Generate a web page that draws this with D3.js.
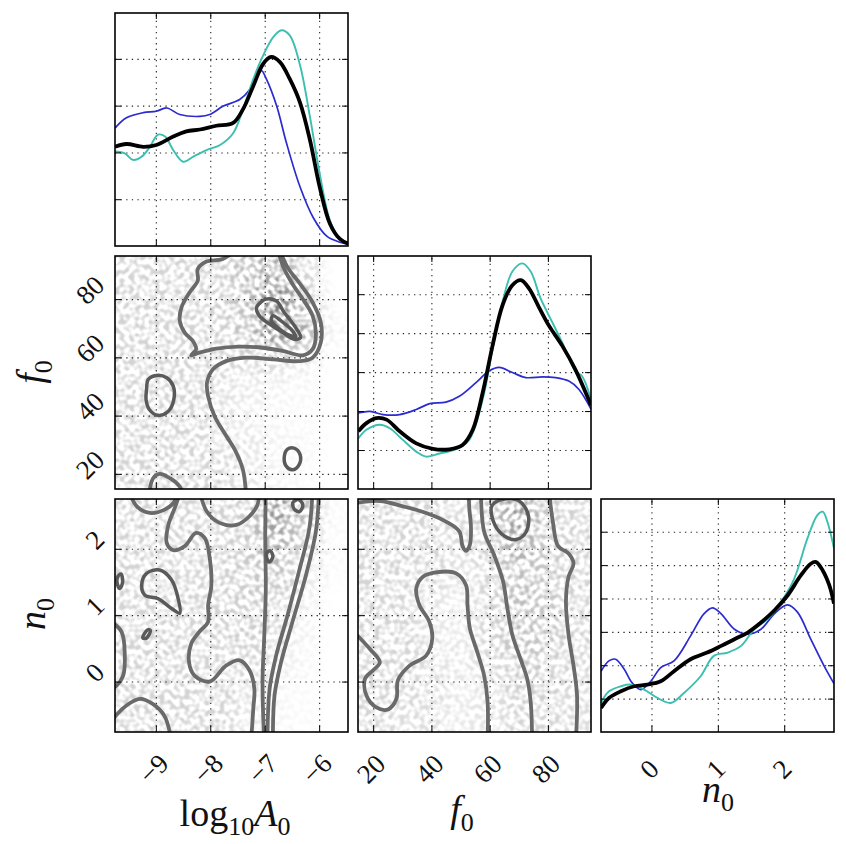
<!DOCTYPE html>
<html>
<head>
<meta charset="utf-8">
<title>Corner plot</title>
<script src="https://cdn.jsdelivr.net/npm/d3@7"></script>
<style>
  body { margin: 0; background: #fff; }
  text { font-family: "Liberation Serif", "DejaVu Serif", serif; fill: #111; }
</style>
</head>
<body>
<script>
// axis ranges and ticks for the three parameters
var logARange = [-9.75, -5.47], f0Range = [14.8, 94.8], n0Range = [-0.76, 2.75];
var logATicks = [-9, -8, -7, -6], f0Ticks = [20, 40, 60, 80], n0Ticks = [0, 1, 2];
var diagMax = [4.98, 5.98, 6.98];
var diagTicks = [[1, 2, 3, 4], [1, 2, 3, 4, 5], [1, 2, 3, 4, 5, 6]];

// 1d marginal curves  [x, density]
var logA_blue = [[-9.75,2.52],[-9.54,2.74],[-9.23,2.85],[-8.99,2.88],[-8.80,2.95],[-8.56,2.81],[-8.19,2.77],[-8.01,2.81],[-7.76,2.99],[-7.46,3.13],[-7.27,3.35],[-7.15,3.60],[-7.06,3.75],[-6.97,3.57],[-6.78,2.99],[-6.60,2.20],[-6.35,1.26],[-6.11,0.61],[-5.86,0.21],[-5.62,0.08],[-5.47,0.04]];
var logA_cyan = [[-9.75,2.02],[-9.57,1.98],[-9.42,1.84],[-9.26,1.91],[-9.11,2.12],[-8.96,2.38],[-8.83,2.34],[-8.68,2.05],[-8.50,1.80],[-8.31,1.91],[-8.07,2.05],[-7.82,2.16],[-7.58,2.41],[-7.40,2.92],[-7.21,3.57],[-7.03,4.07],[-6.84,4.47],[-6.69,4.61],[-6.54,4.50],[-6.35,3.86],[-6.17,2.77],[-5.99,1.55],[-5.80,0.54],[-5.62,0.15],[-5.47,0.05]];
var logA_black = [[-9.75,2.12],[-9.54,2.18],[-9.23,2.12],[-8.99,2.16],[-8.68,2.34],[-8.44,2.45],[-8.19,2.49],[-7.89,2.57],[-7.58,2.63],[-7.40,2.92],[-7.21,3.42],[-7.03,3.89],[-6.88,4.04],[-6.72,3.93],[-6.54,3.57],[-6.35,3.06],[-6.17,2.27],[-5.99,1.26],[-5.80,0.47],[-5.62,0.15],[-5.47,0.05]];

var f0_blue = [[14.9,1.95],[18.9,1.99],[23.4,1.91],[29.1,1.91],[34.8,2.04],[39.4,2.19],[45.0,2.23],[49.6,2.38],[55.3,2.73],[59.8,3.03],[63.3,3.12],[67.8,2.99],[72.4,2.86],[78.1,2.88],[82.6,2.86],[87.2,2.77],[90.6,2.56],[94.8,2.05]];
var f0_cyan = [[14.9,1.30],[17.7,1.52],[22.3,1.65],[25.7,1.56],[30.2,1.26],[34.8,0.96],[38.2,0.83],[42.8,0.91],[48.5,1.02],[53.0,1.26],[57.6,2.30],[61.0,3.59],[64.4,4.80],[67.8,5.58],[71.2,5.79],[74.1,5.58],[77.5,4.89],[81.5,4.28],[84.9,3.76],[89.4,3.03],[91.7,2.90],[94.8,2.30]];
var f0_black = [[14.9,1.48],[17.7,1.69],[21.1,1.82],[24.6,1.78],[29.1,1.48],[34.8,1.17],[40.5,1.03],[46.2,1.02],[50.7,1.13],[54.2,1.52],[57.6,2.47],[61.0,3.68],[64.4,4.71],[67.8,5.23],[70.7,5.36],[73.5,5.15],[76.9,4.67],[80.3,4.20],[84.9,3.68],[89.4,3.07],[94.8,2.15]];

var n0_blue = [[-0.76,1.82],[-0.64,2.13],[-0.54,2.18],[-0.41,1.88],[-0.29,1.47],[-0.16,1.27],[-0.01,1.52],[0.14,1.93],[0.34,2.13],[0.59,2.88],[0.79,3.54],[0.92,3.72],[1.05,3.54],[1.25,3.08],[1.45,2.93],[1.65,3.08],[1.85,3.54],[2.05,3.81],[2.20,3.59],[2.40,2.78],[2.60,1.98],[2.75,1.45]];
var n0_cyan = [[-0.76,0.87],[-0.64,1.22],[-0.46,1.37],[-0.31,1.42],[-0.11,1.27],[0.09,1.02],[0.29,0.87],[0.49,1.17],[0.74,1.67],[0.94,2.28],[1.15,2.38],[1.35,2.58],[1.55,3.08],[1.75,3.38],[1.95,3.89],[2.15,4.59],[2.35,5.80],[2.50,6.50],[2.58,6.60],[2.65,6.30],[2.75,5.50]];
var n0_black = [[-0.76,0.72],[-0.64,1.02],[-0.46,1.22],[-0.26,1.37],[-0.06,1.42],[0.14,1.52],[0.34,1.82],[0.59,2.18],[0.84,2.38],[1.05,2.58],[1.25,2.78],[1.45,2.98],[1.65,3.28],[1.85,3.64],[2.05,4.09],[2.25,4.69],[2.40,5.04],[2.48,5.09],[2.58,4.84],[2.68,4.39],[2.75,3.85]];

// 2d contours (open lines run off the panel, loops are closed)
var logA_f0_open = [
  [[-7.34,12],[-7.40,21.4],[-7.55,28.3],[-7.74,34.0],[-7.92,39.8],[-8.04,46.7],[-8.06,51.3],[-7.95,55.9],[-7.71,58.7],[-7.34,59.9],[-6.85,59.3],[-6.37,58.7],[-6.12,59.9],[-5.97,65.1],[-5.97,72.0],[-6.12,78.9],[-6.37,85.7],[-6.58,90.9],[-6.75,98]],
  [[-7.46,98],[-7.77,93.8],[-8.07,92.9],[-8.23,90.3],[-8.23,86.3],[-8.38,82.3],[-8.53,77.1],[-8.56,72.5],[-8.47,68.5],[-8.32,65.6],[-8.26,62.8],[-8.35,60.7],[-8.20,61.6],[-7.89,63.0],[-7.46,63.7],[-7.04,63.3],[-6.67,62.2],[-6.30,60.7],[-6.12,62.8],[-6.06,67.9],[-6.12,74.3],[-6.30,80.0],[-6.49,85.2],[-6.64,90.3],[-6.78,98]],
  [[-9.13,12],[-9.05,18.5],[-8.93,20.0],[-8.74,18.5],[-8.56,15.6],[-8.48,12]]
];
var logA_f0_loops = [
  [[-7.07,78.9],[-6.98,80.0],[-6.79,79.4],[-6.64,75.4],[-6.43,70.2],[-6.34,66.8],[-6.46,66.2],[-6.67,68.5],[-6.91,71.4],[-7.10,74.3],[-7.15,77.1]],
  [[-6.85,74.3],[-6.70,72.5],[-6.49,69.1],[-6.43,67.1],[-6.55,67.6],[-6.76,70.2],[-6.88,72.5]],
  [[-9.17,49.0],[-9.14,52.4],[-8.99,53.8],[-8.80,53.0],[-8.68,50.1],[-8.67,45.5],[-8.77,41.5],[-8.96,40.1],[-9.12,42.1],[-9.18,45.5]],
  [[-6.64,26.0],[-6.58,28.5],[-6.46,28.8],[-6.35,26.6],[-6.37,23.1],[-6.49,21.4],[-6.61,22.8]]
];
var logA_n0_open = [
  [[-9.51,2.9],[-9.35,2.64],[-9.11,2.54],[-8.84,2.59],[-8.65,2.72],[-8.62,2.9]],
  [[-8.53,2.9],[-8.65,2.62],[-8.77,2.36],[-8.80,2.09],[-8.68,1.98],[-8.47,2.04],[-8.26,2.24],[-8.10,2.16],[-8.01,1.86],[-7.98,1.45],[-8.04,1.15],[-8.04,0.90],[-8.20,0.75],[-8.35,0.57],[-8.39,0.29],[-8.29,0.09],[-8.01,0.0],[-7.71,0.24],[-7.46,0.32],[-7.28,0.17],[-7.19,-0.11],[-7.21,-0.41],[-7.25,-0.9]],
  [[-8.20,2.9],[-8.07,2.57],[-7.83,2.39],[-7.52,2.36],[-7.28,2.49],[-7.13,2.67],[-7.10,2.9]],
  [[-6.98,2.9],[-6.99,2.16],[-6.98,1.40],[-7.01,0.65],[-7.04,0.0],[-7.01,-0.9]],
  [[-6.12,2.9],[-6.18,2.31],[-6.37,1.66],[-6.58,1.0],[-6.79,0.39],[-6.91,-0.11],[-6.95,-0.9]],
  [[-6.0,2.9],[-6.06,2.26],[-6.24,1.61],[-6.49,0.90],[-6.70,0.29],[-6.82,-0.21],[-6.85,-0.9]],
  [[-9.85,0.92],[-9.63,0.75],[-9.57,0.39],[-9.60,0.09],[-9.72,-0.06],[-9.85,-0.12]],
  [[-9.85,-0.62],[-9.54,-0.36],[-9.29,-0.26],[-9.05,-0.34],[-8.84,-0.52],[-8.71,-0.9]]
];
var logA_n0_loops = [
  [[-9.26,1.45],[-9.17,1.63],[-8.93,1.68],[-8.71,1.53],[-8.59,1.25],[-8.56,1.03],[-8.71,1.10],[-8.96,1.25],[-9.20,1.30]],
  [[-6.48,2.70],[-6.38,2.74],[-6.30,2.66],[-6.36,2.56],[-6.46,2.60]],
  [[-6.97,1.92],[-6.90,1.97],[-6.85,1.88],[-6.92,1.80]],
  [[-9.70,1.58],[-9.64,1.62],[-9.61,1.50],[-9.66,1.40],[-9.70,1.45]],
  [[-9.24,0.66],[-9.15,0.78],[-9.10,0.77],[-9.18,0.65]]
];
var f0_n0_open = [
  [[14,2.69],[22.3,2.72],[30.2,2.64],[38.2,2.54],[45.0,2.41],[49.6,2.26],[50.7,2.04],[51.9,1.97],[53.2,2.06],[53.6,2.31],[53.0,2.62],[52.8,2.9]],
  [[14,0.72],[18.9,0.49],[22.3,0.29],[20.0,0.17],[17.2,0.04],[17.7,-0.21],[21.1,-0.39],[25.1,-0.42],[28.0,-0.26],[28.5,0.02],[32.5,0.24],[38.2,0.39],[40.3,0.65],[39.3,0.90],[35.9,1.15],[34.8,1.40],[37.1,1.58],[42.2,1.65],[48.5,1.63],[51.9,1.45],[52.4,1.15],[53.2,0.80],[55.8,0.44],[58.1,0.09],[59.3,-0.31],[59.3,-0.9]],
  [[57.0,2.9],[58.1,2.26],[61.5,1.91],[64.6,1.51],[66.1,1.10],[67.8,0.70],[70.6,0.34],[72.9,0.04],[74.1,-0.31],[74.6,-0.9]],
  [[80.3,2.9],[81.7,2.41],[83.5,2.04],[87.1,1.93],[88.8,1.78],[87.1,1.58],[86.2,1.20],[87.1,0.70],[88.8,0.24],[90.0,-0.21],[89.6,-0.9]]
];
var f0_n0_loops = [
  [[60.7,2.64],[64.1,2.74],[69.8,2.73],[73.2,2.52],[72.6,2.26],[69.2,2.14],[65.2,2.19],[61.8,2.36]]
];

// sample density (rows top to bottom, 8 x 8 cells)
var logA_f0_dens = [
  [1,1,1,1,1.5,2,1,0],
  [1,1,1,1,1.5,3,1.5,0],
  [1,1,1,1,1.5,3,2,0.2],
  [1,1,1,1,1,1,0.5,0],
  [1,1,1,0.8,0.5,0.3,0.2,0],
  [1,1,1,0.8,0.4,0.2,0.1,0],
  [1,1,1,0.8,0.6,0.3,0.2,0],
  [1,1,1,1,0.6,0.3,0.1,0]
];
var logA_n0_dens = [
  [1,1,1,1,1.2,2.5,1.5,0.1],
  [1,1,1,1,1.2,2,1,0.1],
  [1,1,1,1,1.2,1.5,0.6,0.1],
  [1,1,1,1,1.2,1.2,0.4,0],
  [1,1,1,1,1.2,1,0.3,0],
  [1,1,1,1,1,0.6,0.2,0],
  [1,1,1,1,0.8,0.3,0.1,0],
  [1,1,1,1,0.6,0.2,0.1,0]
];
var f0_n0_dens = [
  [1,1,1,0.8,1.2,2.5,1.2,1],
  [1,1,1,0.8,1.2,2,1.2,1],
  [1,1,1,0.6,1,1.5,1.3,1],
  [1,1,0.6,0.5,1,1.5,1.3,1],
  [1,1,0.6,0.5,1,1.5,1.3,1],
  [1,1,0.8,0.5,0.8,1.3,1.2,0.9],
  [1,1,0.8,0.5,0.7,1.2,1.1,0.8],
  [1,0.8,0.8,0.5,0.6,1,1,0.8]
];

var size = 233, gap = 10, left0 = 115, top0 = 13;
var ranges = [logARange, f0Range, n0Range];
var ticks = [logATicks, f0Ticks, n0Ticks];
var diagCurves = [[logA_blue, logA_cyan, logA_black], [f0_blue, f0_cyan, f0_black], [n0_blue, n0_cyan, n0_black]];
var pairData = {
  "10": [logA_f0_open, logA_f0_loops, logA_f0_dens],
  "20": [logA_n0_open, logA_n0_loops, logA_n0_dens],
  "21": [f0_n0_open, f0_n0_loops, f0_n0_dens]
};
var curveColors = ["#2b2bd0", "#3bbfb0", "#000"];
var curveWidths = [1.7, 1.9, 3.8];
var fmt = d3.format("d");

var svg = d3.select("body").append("svg")
    .attr("width", 846)
    .attr("height", 844);
var defs = svg.append("defs");

// blurred density, broken up into a speckle like the scatter points
var filt = defs.append("filter").attr("id", "speck")
    .attr("x", "-20%").attr("y", "-20%").attr("width", "140%").attr("height", "140%");
filt.append("feGaussianBlur").attr("in", "SourceGraphic").attr("stdDeviation", 9).attr("result", "b");
filt.append("feTurbulence").attr("type", "fractalNoise").attr("baseFrequency", 0.2)
    .attr("numOctaves", 1).attr("seed", 7).attr("result", "n");
filt.append("feColorMatrix").attr("in", "n").attr("type", "matrix")
    .attr("values", "0 0 0 0 0  0 0 0 0 0  0 0 0 0 0  3.6 0 0 0 -1.45").attr("result", "m");
filt.append("feComposite").attr("in", "b").attr("in2", "m")
    .attr("operator", "arithmetic").attr("k1", 2.4).attr("k2", 0).attr("k3", 0).attr("k4", 0);

function gridStyle(sel) {
  sel.select(".domain").remove();
  sel.selectAll("line")
    .attr("stroke", "#222")
    .attr("stroke-width", 1.1)
    .attr("stroke-dasharray", "1.3,4.3");
}
function tickStyle(sel) {
  sel.select(".domain").remove();
  sel.selectAll("line").attr("stroke", "#000").attr("stroke-width", 1);
}

function drawPanel(row, col) {
  var x0 = left0 + col * (size + gap), y0 = top0 + row * (size + gap);
  var diag = row == col;
  var x = d3.scaleLinear().domain(ranges[col]).range([x0, x0 + size]);
  var y = d3.scaleLinear().domain(diag ? [0, diagMax[col]] : ranges[row]).range([y0 + size, y0]);
  var yt = diag ? diagTicks[col] : ticks[row];
  var id = "clip" + row + col;
  defs.append("clipPath").attr("id", id)
    .append("rect").attr("x", x0).attr("y", y0).attr("width", size).attr("height", size);

  var g = svg.append("g");
  var line = d3.line()
      .x(function(d) { return x(d[0]); })
      .y(function(d) { return y(d[1]); });

  if (!diag) {
    // smoothed scatter density
    var dens = pairData["" + row + col][2];
    var nr = dens.length, nc = dens[0].length;
    var xr = ranges[col], yr = ranges[row];
    var cells = [];
    dens.forEach(function(rw, ri) {
      rw.forEach(function(v, ci) {
        cells.push({
          xa: xr[0] + (xr[1] - xr[0]) * ci / nc, xb: xr[0] + (xr[1] - xr[0]) * (ci + 1) / nc,
          ya: yr[1] - (yr[1] - yr[0]) * ri / nr, yb: yr[1] - (yr[1] - yr[0]) * (ri + 1) / nr,
          v: v, ci: ci, ri: ri
        });
      });
    });
    g.append("g").attr("clip-path", "url(#" + id + ")")
      .append("g").attr("filter", "url(#speck)")
      .selectAll("rect").data(cells).enter().append("rect")
        .attr("x", function(d) { return x(d.xa) - (d.ci == 0 ? 30 : 0); })
        .attr("y", function(d) { return y(d.ya) - (d.ri == 0 ? 30 : 0); })
        .attr("width", function(d) { return x(d.xb) - x(d.xa) + (d.ci == 0 || d.ci == nc - 1 ? 30 : 0) + 0.5; })
        .attr("height", function(d) { return y(d.yb) - y(d.ya) + (d.ri == 0 || d.ri == nr - 1 ? 30 : 0) + 0.5; })
        .attr("fill", "#000")
        .attr("fill-opacity", function(d) { return d.v * 0.07; });
  }

  // dotted grid
  g.append("g").attr("transform", "translate(0," + (y0 + size) + ")")
    .call(d3.axisBottom(x).tickValues(ticks[col]).tickSize(-size).tickFormat(""))
    .call(gridStyle);
  g.append("g").attr("transform", "translate(" + x0 + ",0)")
    .call(d3.axisLeft(y).tickValues(yt).tickSize(-size).tickFormat(""))
    .call(gridStyle);

  var lines = g.append("g").attr("clip-path", "url(#" + id + ")");
  if (diag) {
    diagCurves[col].forEach(function(cv, k) {
      lines.append("path").datum(cv)
        .attr("d", line.curve(d3.curveCatmullRom.alpha(0.5)))
        .attr("fill", "none")
        .attr("stroke", curveColors[k])
        .attr("stroke-width", curveWidths[k])
        .attr("stroke-linejoin", "round");
    });
  } else {
    var pd = pairData["" + row + col];
    lines.selectAll("path.open").data(pd[0]).enter().append("path")
      .attr("class", "open")
      .attr("d", line.curve(d3.curveCatmullRom.alpha(0.5)))
      .attr("fill", "none").attr("stroke", "#6a6a6a").attr("stroke-width", 3.8);
    lines.selectAll("path.loop").data(pd[1]).enter().append("path")
      .attr("class", "loop")
      .attr("d", line.curve(d3.curveCatmullRomClosed.alpha(0.5)))
      .attr("fill", "none").attr("stroke", "#5a5a5a").attr("stroke-width", 3.5);
  }

  // inward ticks on all sides
  g.append("g").attr("transform", "translate(0," + (y0 + size) + ")")
    .call(d3.axisBottom(x).tickValues(ticks[col]).tickSize(-6).tickFormat("")).call(tickStyle);
  g.append("g").attr("transform", "translate(0," + y0 + ")")
    .call(d3.axisTop(x).tickValues(ticks[col]).tickSize(-6).tickFormat("")).call(tickStyle);
  g.append("g").attr("transform", "translate(" + x0 + ",0)")
    .call(d3.axisLeft(y).tickValues(yt).tickSize(-6).tickFormat("")).call(tickStyle);
  g.append("g").attr("transform", "translate(" + (x0 + size) + ",0)")
    .call(d3.axisRight(y).tickValues(yt).tickSize(-6).tickFormat("")).call(tickStyle);

  g.append("rect")
    .attr("x", x0).attr("y", y0).attr("width", size).attr("height", size)
    .attr("fill", "none").attr("stroke", "#000").attr("stroke-width", 1.6);

  // tick labels
  if (row == 2) {
    ticks[col].forEach(function(t) {
      svg.append("text")
        .attr("transform", "translate(" + (x(t) - 2) + ",769) rotate(-45)")
        .attr("text-anchor", "middle")
        .attr("dominant-baseline", "central")
        .style("font-size", "27px")
        .text(fmt(t));
    });
  }
  if (col == 0 && row > 0) {
    ticks[row].forEach(function(t) {
      var tx = svg.append("text")
        .attr("text-anchor", "middle")
        .attr("dominant-baseline", "central")
        .style("font-size", "27px")
        .text(fmt(t));
      var L = tx.node().getComputedTextLength();
      var half = (L + 18) * 0.707 / 2;
      tx.attr("transform", "translate(" + (106 - half) + "," + (y(t) - 9) + ") rotate(-45)");
    });
  }
}

for (var r = 0; r < 3; r++) {
  for (var c = 0; c <= r; c++) drawPanel(r, c);
}

// axis titles
function title(xp, yp, parts, rot) {
  var t = svg.append("text")
    .attr("text-anchor", "middle")
    .attr("transform", "translate(" + xp + "," + yp + ")" + (rot ? " rotate(-90)" : ""))
    .style("font-size", "38px");
  var shift = 0;
  parts.forEach(function(p) {
    var ts = t.append("tspan").text(p[0]);
    if (p[1] == "sub") { ts.attr("dy", 9 - shift).style("font-size", "26px"); shift = 9; }
    else { ts.attr("dy", -shift); shift = 0; }
    if (p[2]) ts.style("font-style", "italic");
  });
}
title(235, 826, [["log"], ["10", "sub"], ["A", "", 1], ["0", "sub"]]);
title(462, 822, [["f", "", 1], ["0", "sub"]]);
title(718, 802, [["n", "", 1], ["0", "sub"]]);
title(43, 372, [["f", "", 1], ["0", "sub"]], true);
title(45, 614, [["n", "", 1], ["0", "sub"]], true);
</script>
</body>
</html>
